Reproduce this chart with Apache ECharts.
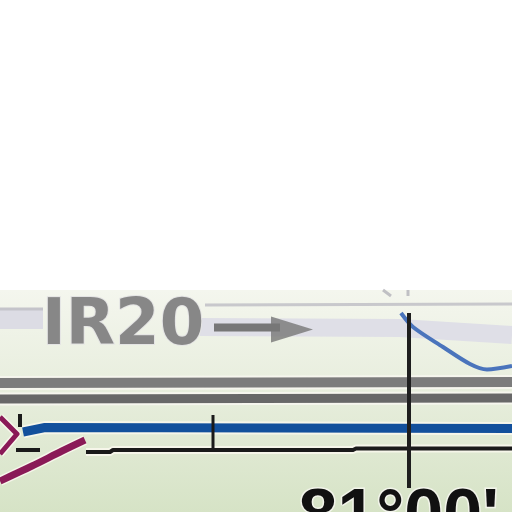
<!DOCTYPE html>
<html>
<head>
<meta charset="utf-8">
<script src="https://cdn.jsdelivr.net/npm/echarts@6/dist/echarts.min.js"></script>
<style>
  html, body { margin: 0; padding: 0; background: #fff; }
  #chart { width: 512px; height: 512px; }
</style>
</head>
<body>
<div id="chart"></div>
<script>
// traced map fragment, coords in picture pixels (y grows down)
var paleBandLeft = [[0, 319], [43, 319]];
var paleBandRight = [[200, 327], [400, 328], [512, 335]];
var thinLineLeft = [[0, 309], [43, 309]];
var thinLineRight = [[205, 305], [512, 304]];
var arrowShaft = [[214, 327.5], [280, 327.5]];
var arrowHead = [[292, 329.5]];
var profileCurve = [[401, 313], [413, 327], [443, 347], [470, 364], [487, 369.5], [512, 366]];
var grayLine1 = [[0, 383], [512, 382]];
var grayLine2 = [[0, 399], [512, 398]];
var blueLine = [[23, 432], [45, 427.5], [512, 428.5]];
var meridian = [[409, 313], [409, 488]];
var baseLine = [[86, 452], [110, 452], [113, 450], [353, 450], [356, 448.5], [512, 448.5]];
var midTick = [[213, 415], [213, 450]];
var cornerTick = [[20, 414], [20, 427]];
var cornerFoot = [[16, 450], [40, 450]];
var chevron = [[0, 417], [17, 434], [0, 454]];
var coastCurve = [[85, 440], [62, 451], [32, 466], [0, 481]];
var topMarks1 = [[383, 290], [391, 296]];
var topMarks2 = [[408, 290], [408, 296]];

var labelLeft = 'IR20';
var labelBottom = "81°00'";

function seg(data, color, width, z, smooth) {
    return {
        type: 'line',
        data: data,
        symbol: 'none',
        smooth: smooth || false,
        silent: true,
        z: z || 2,
        lineStyle: { color: color, width: width, cap: 'butt', join: 'round' }
    };
}

var box = document.getElementById('chart');
var myChart = echarts.init(box);
var option = {
    animation: false,
    grid: { left: 0, right: 0, top: 0, bottom: 0 },
    xAxis: { type: 'value', min: 0, max: 512, show: false },
    yAxis: { type: 'value', min: 0, max: 512, inverse: true, show: false },
    graphic: [
        {
            type: 'rect', z: -10,
            shape: { x: 0, y: 290, width: 512, height: 222 },
            style: {
                fill: new echarts.graphic.LinearGradient(0, 0, 0, 1, [
                    { offset: 0, color: '#f4f6ee' },
                    { offset: 0.5, color: '#e6eddb' },
                    { offset: 1, color: '#d6e3c6' }
                ])
            }
        },
        {
            type: 'text', z: 5, left: 41, top: 294,
            style: {
                text: labelLeft,
                font: 'bold 64px "DejaVu Sans"',
                fill: '#878787',
                stroke: '#e4e4e4', lineWidth: 2
            }
        },
        {
            type: 'text', z: 5, left: 297, top: 482,
            style: {
                text: labelBottom,
                font: 'bold 70px "Liberation Sans"',
                fill: '#111',
                stroke: '#f2f4ea', lineWidth: 3
            }
        }
    ],
    series: [
        seg(paleBandLeft, '#dcdce4', 20, 1),
        seg(paleBandRight, '#dfdfe7', 18, 1),
        seg(thinLineLeft, '#c4c4ca', 3, 2),
        seg(thinLineRight, '#c8c8cc', 3, 2),
        seg(topMarks1, '#c0c0c4', 3, 2),
        seg(topMarks2, '#c0c0c4', 3, 2),
        seg(arrowShaft, '#777777', 8, 3),
        {
            type: 'scatter',
            data: arrowHead,
            symbol: 'triangle',
            symbolRotate: -90,
            symbolSize: [26, 42],
            silent: true,
            z: 3,
            itemStyle: { color: '#777777' }
        },
        seg(profileCurve, '#4a74bc', 4, 3, 0.3),
        seg(grayLine1, '#f6f6ee', 14, 2),
        seg(grayLine1, '#7c7c7c', 10, 3),
        seg(grayLine2, '#f6f6ee', 13, 2),
        seg(grayLine2, '#686868', 9, 3),
        seg(blueLine, '#f6f6ea', 13, 2),
        seg(blueLine, '#12509c', 9, 3),
        seg(baseLine, '#f6f6ea', 8, 2),
        seg(baseLine, '#1a1a1a', 4, 3),
        seg(midTick, '#1a1a1a', 3, 3),
        seg(cornerTick, '#1a1a1a', 4, 3),
        seg(cornerFoot, '#1a1a1a', 4, 3),
        seg(meridian, '#1e1e1e', 4, 4),
        seg(chevron, '#f6f6ea', 8, 2),
        seg(chevron, '#8a1a57', 5, 3),
        seg(coastCurve, '#f6f6ea', 10, 2, 0.3),
        seg(coastCurve, '#8a1a57', 7, 3, 0.3)
    ]
};
myChart.setOption(option);
</script>
</body>
</html>
